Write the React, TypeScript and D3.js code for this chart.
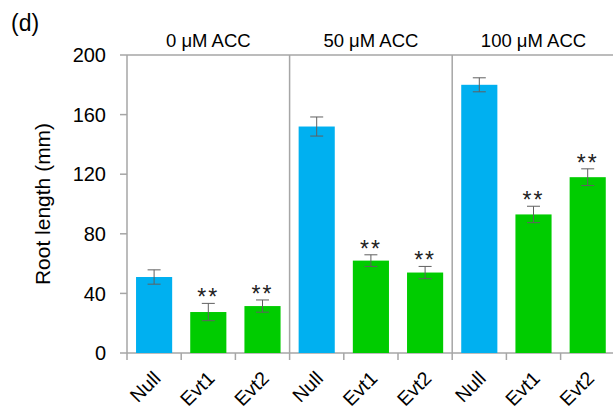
import React from "react";
import * as d3 from "d3";

// Root length under ACC treatment
const groups = ["0 μM ACC", "50 μM ACC", "100 μM ACC"];
const lines = ["Null", "Evt1", "Evt2"];
const means = [
  [51, 27.5, 31.5],
  [152, 62, 54],
  [180, 93, 118],
];
const errors = [
  [4.8, 5.8, 4.1],
  [6.4, 3.9, 4.1],
  [4.7, 5.5, 5.6],
];
const significant = [
  [false, true, true],
  [false, true, true],
  [false, true, true],
];
const yTicks = [0, 40, 80, 120, 160, 200];

const W = 613;
const H = 413;
const left = 127;
const top = 55;
const bottom = 353;
const catW = 54.2;
const right = left + catW * 9;

const FONT = "'Liberation Sans', Arial, sans-serif";
const AXIS = "#a6a6a6";
const ERR = "#606060";

export default function App() {
  const y = d3.scaleLinear().domain([0, 200]).range([bottom, top]);
  const cats = groups.flatMap((g, gi) => lines.map((l, li) => ({ g, gi, l, li, key: `${gi}-${li}` })));
  const x = d3
    .scaleBand<string>()
    .domain(cats.map((c) => c.key))
    .range([left, right])
    .paddingInner(1 / 3)
    .paddingOuter(1 / 6);
  const step = x.step();
  const boundaries = d3.range(10).map((i) => left + i * step);

  return (
    <svg width={W} height={H} style={{ position: "absolute", left: 0, top: 0 }} fontFamily={FONT}>
      <text x={11} y={31} fontSize={23} fill="#000">(d)</text>

      {/* plot frame */}
      <line x1={left} x2={right} y1={top} y2={top} stroke={AXIS} strokeWidth={1.5} />
      <line x1={left} x2={left} y1={top} y2={bottom} stroke={AXIS} strokeWidth={1.5} />
      <line x1={left} x2={right} y1={bottom} y2={bottom} stroke={AXIS} strokeWidth={1.5} />
      {[1, 2].map((i) => (
        <line key={i} x1={left + i * 3 * step} x2={left + i * 3 * step} y1={top} y2={bottom} stroke={AXIS} strokeWidth={1.5} />
      ))}

      {/* y axis */}
      {yTicks.map((t) => (
        <g key={t}>
          <line x1={left - 7} x2={left} y1={y(t)} y2={y(t)} stroke={AXIS} strokeWidth={1.5} />
          <text x={106} y={y(t)} dy="0.36em" textAnchor="end" fontSize={20} fill="#000">
            {t}
          </text>
        </g>
      ))}
      <text
        transform={`translate(50,${(top + bottom) / 2}) rotate(-90)`}
        textAnchor="middle"
        fontSize={21}
        fill="#000"
      >
        Root length (mm)
      </text>

      {/* x ticks at category boundaries */}
      {boundaries.map((b, i) => (
        <line key={i} x1={b} x2={b} y1={bottom} y2={bottom + 7} stroke={AXIS} strokeWidth={1.5} />
      ))}

      {/* group titles */}
      {groups.map((g, gi) => (
        <text key={g} x={left + (gi * 3 + 1.5) * step} y={47} textAnchor="middle" fontSize={18.5} fill="#000">
          {g}
        </text>
      ))}

      {/* bars, error bars and markers */}
      {cats.map((c) => {
        const v = means[c.gi][c.li];
        const e = errors[c.gi][c.li];
        const x0 = x(c.key)!;
        const cx = x0 + x.bandwidth() / 2;
        return (
          <g key={c.key}>
            <rect
              x={x0}
              y={y(v)}
              width={x.bandwidth()}
              height={bottom - y(v)}
              fill={c.li === 0 ? "#00b0f0" : "#00cc00"}
            />
            <line x1={cx} x2={cx} y1={y(v + e)} y2={y(v - e)} stroke={ERR} strokeWidth={1} />
            <line x1={cx - 6.5} x2={cx + 6.5} y1={y(v + e)} y2={y(v + e)} stroke={ERR} strokeWidth={1} />
            <line x1={cx - 6.5} x2={cx + 6.5} y1={y(v - e)} y2={y(v - e)} stroke={ERR} strokeWidth={1} />
            {significant[c.gi][c.li] && (
              <text x={cx} y={y(v + e) + 2} textAnchor="middle" fontSize={23} letterSpacing={2} fill="#222">
                **
              </text>
            )}
            <text
              transform={`translate(${cx - 2},${bottom + 17}) rotate(-45)`}
              textAnchor="end"
              dy="0.7em"
              fontSize={19.5}
              fill="#000"
            >
              {c.l}
            </text>
          </g>
        );
      })}
    </svg>
  );
}
